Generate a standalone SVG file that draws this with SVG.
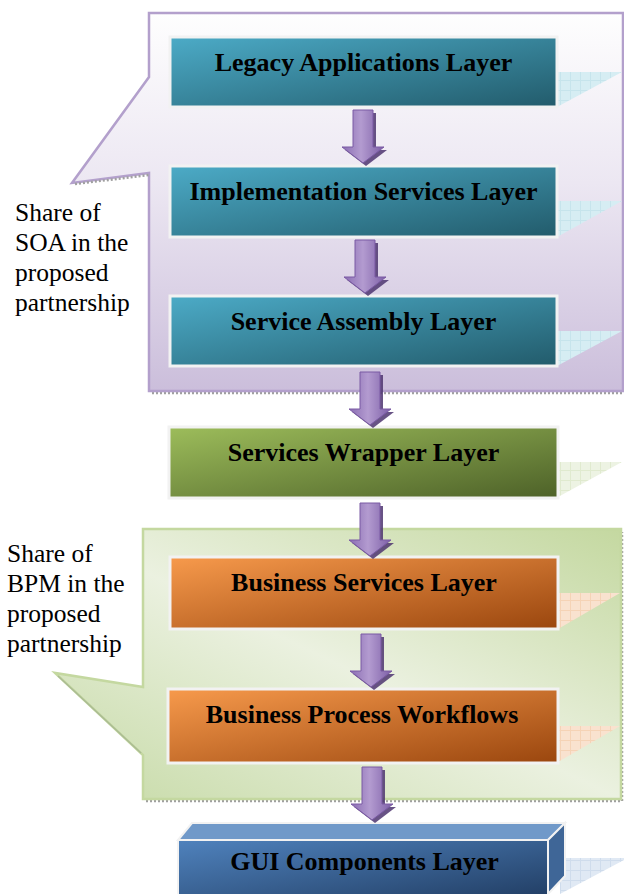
<svg xmlns="http://www.w3.org/2000/svg" width="624" height="894" viewBox="0 0 624 894">
<style>
.box{stroke:#f2f2f2;stroke-width:3}
.t{font-family:"Liberation Serif","Times New Roman",serif;font-weight:bold;font-size:26px;fill:#000;text-anchor:middle}
.lbl{font-family:"Liberation Serif","Times New Roman",serif;font-size:25.5px;fill:#000}
.shd{stroke:#a0a0a0;stroke-width:2.5;stroke-dasharray:2 2;fill:none}
</style>
<defs>
<linearGradient id="gPurple" x1="0" y1="0" x2="0" y2="1">
<stop offset="0" stop-color="#fefefe"/>
<stop offset="0.45" stop-color="#ece7f2"/>
<stop offset="1" stop-color="#cbbedb"/>
</linearGradient>
<linearGradient id="gGreenC" x1="1" y1="0" x2="0" y2="1">
<stop offset="0" stop-color="#c4d8a0"/>
<stop offset="0.5" stop-color="#ebf1e0"/>
<stop offset="1" stop-color="#c6daa6"/>
</linearGradient>
<linearGradient id="gTeal" x1="0" y1="0" x2="1" y2="1">
<stop offset="0" stop-color="#4cabc7"/>
<stop offset="1" stop-color="#225b6b"/>
</linearGradient>
<linearGradient id="gGreen" x1="0" y1="0" x2="1" y2="1">
<stop offset="0" stop-color="#9dbd5b"/>
<stop offset="1" stop-color="#4d6128"/>
</linearGradient>
<linearGradient id="gOrange" x1="0" y1="0" x2="1" y2="1">
<stop offset="0" stop-color="#f79a4c"/>
<stop offset="1" stop-color="#9a460e"/>
</linearGradient>
<linearGradient id="gBlue" x1="0" y1="0" x2="1" y2="1">
<stop offset="0" stop-color="#4f82bd"/>
<stop offset="1" stop-color="#213d63"/>
</linearGradient>
<linearGradient id="gArrow" x1="0" y1="0" x2="1" y2="0">
<stop offset="0" stop-color="#8a6db2"/>
<stop offset="0.45" stop-color="#b39bd0"/>
<stop offset="1" stop-color="#7c5ea6"/>
</linearGradient>
<pattern id="pTeal" width="10" height="10" patternUnits="userSpaceOnUse">
<rect width="10" height="10" fill="#d6edf3"/>
<path d="M0 0.5H10M0.5 0V10" stroke="#c6e4ec" stroke-width="1"/>
</pattern>
<pattern id="pGreen" width="10" height="10" patternUnits="userSpaceOnUse">
<rect width="10" height="10" fill="#edf3e3"/>
<path d="M0 0.5H10M0.5 0V10" stroke="#e0eacf" stroke-width="1"/>
</pattern>
<pattern id="pOrange" width="10" height="10" patternUnits="userSpaceOnUse">
<rect width="10" height="10" fill="#f9e2cf"/>
<path d="M0 0.5H10M0.5 0V10" stroke="#f5d3b6" stroke-width="1"/>
</pattern>
<pattern id="pBlue" width="10" height="10" patternUnits="userSpaceOnUse">
<rect width="10" height="10" fill="#e0e9f4"/>
<path d="M0 0.5H10M0.5 0V10" stroke="#cfdcec" stroke-width="1"/>
</pattern>
<g id="arrow">
<path d="M-7,3 H13 V40 H24 L3,56 L-18,40 H-7 Z" fill="#4e3570" opacity="0.85"/>
<path d="M-10,0 H10 V37 H21 L0,53 L-21,37 H-10 Z" fill="url(#gArrow)" stroke="#7a5aa4" stroke-width="1"/>
</g>
</defs>

<rect width="624" height="894" fill="#ffffff"/>

<g id="soa-callout">
<path d="M152,393 H623" class="shd"/>
<path d="M149,13 H623 V391 H149 V173 L72,183 L149,77 Z" fill="url(#gPurple)" stroke="#b3a0cc" stroke-width="2.5"/>
<path d="M75,184 L149,175" class="shd" stroke-width="2"/>
</g>

<g id="bpm-callout">
<path d="M146,801 H622 V532" class="shd"/>
<path d="M143,529 H621 V799 H143 V755 L55,673 L143,687 Z" fill="url(#gGreenC)" stroke="#c4d8a0" stroke-width="2.5"/>
<path d="M58,676 L141,753" stroke="#9aa88a" stroke-width="1.5" fill="none" opacity="0.6"/>
</g>

<g id="shadows">
<polygon points="557,72 622,72 557,107" fill="url(#pTeal)"/>
<polygon points="557,201 622,201 557,237" fill="url(#pTeal)"/>
<polygon points="557,331 622,331 557,366" fill="url(#pTeal)"/>
<polygon points="558,462 622,462 558,497" fill="url(#pGreen)"/>
<polygon points="558,593 620,593 558,629" fill="url(#pOrange)"/>
<polygon points="558,726 620,726 558,762" fill="url(#pOrange)"/>
<polygon points="560,858 624,858 624,860 560,894" fill="url(#pBlue)"/>
</g>

<g id="legacy">
<rect class="box" x="170" y="37" width="387" height="70" fill="url(#gTeal)"/>
<text class="t" x="363.5" y="71">Legacy Applications Layer</text>
</g>
<g id="implementation">
<rect class="box" x="170" y="166" width="387" height="71" fill="url(#gTeal)"/>
<text class="t" x="363.5" y="200">Implementation Services Layer</text>
</g>
<g id="assembly">
<rect class="box" x="170" y="296" width="387" height="70" fill="url(#gTeal)"/>
<text class="t" x="363.5" y="330">Service Assembly Layer</text>
</g>
<g id="wrapper">
<rect class="box" x="169" y="427" width="389" height="71" fill="url(#gGreen)"/>
<text class="t" x="363.5" y="461">Services Wrapper Layer</text>
</g>
<g id="business-services">
<rect class="box" x="170" y="557" width="388" height="72" fill="url(#gOrange)"/>
<text class="t" x="364" y="591">Business Services Layer</text>
</g>
<g id="workflows">
<rect class="box" x="168" y="689" width="390" height="74" fill="url(#gOrange)"/>
<text class="t" x="362" y="723">Business Process Workflows</text>
</g>
<g id="gui">
<polygon points="178,840 192,823 565,823 548,840" fill="#7099c9" stroke="#f2f2f2" stroke-width="2"/>
<polygon points="548,840 565,823 565,876 548,894" fill="#3f6697" stroke="#f2f2f2" stroke-width="2"/>
<rect x="178" y="840" width="370" height="60" fill="url(#gBlue)" stroke="#f2f2f2" stroke-width="2"/>
<text class="t" x="364.5" y="870">GUI Components Layer</text>
</g>

<g id="connectors">
<use href="#arrow" x="363" y="110"/>
<use href="#arrow" x="365" y="240"/>
<use href="#arrow" x="370" y="372"/>
<use href="#arrow" x="370" y="503"/>
<use href="#arrow" x="371" y="634"/>
<use href="#arrow" x="372" y="767"/>
</g>

<g id="labels">
<text class="lbl" x="15" y="221">Share of</text>
<text class="lbl" x="15" y="251">SOA in the</text>
<text class="lbl" x="15" y="281">proposed</text>
<text class="lbl" x="15" y="311">partnership</text>
<text class="lbl" x="7" y="562">Share of</text>
<text class="lbl" x="7" y="592">BPM in the</text>
<text class="lbl" x="7" y="622">proposed</text>
<text class="lbl" x="7" y="652">partnership</text>
</g>
</svg>
